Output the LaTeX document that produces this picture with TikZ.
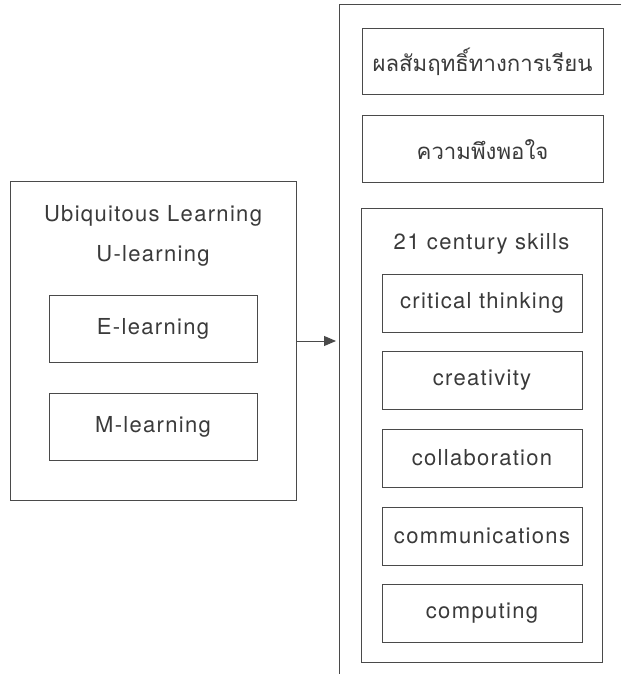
\documentclass[tikz,border=0pt]{standalone}
\usepackage{fontspec}
\setmainfont{TeX Gyre Heros}[LetterSpace=6]
\newfontfamily\thaifont[Script=Thai]{Loma}
\usetikzlibrary{arrows.meta}
\definecolor{ink}{HTML}{3A3A3A}
\definecolor{rule}{HTML}{4A4A4A}
\begin{document}
\begin{tikzpicture}[x=1pt,y=-1pt,
  every node/.style={text=ink,font=\fontsize{22}{26}\selectfont},
  frame/.style={draw=rule,line width=0.9pt,rectangle,inner sep=0pt},
  outerbox/.style={frame,minimum width=286pt,minimum height=319pt},
  midbox/.style={frame,minimum width=208pt,minimum height=67pt},
  resultbox/.style={frame,minimum width=241pt,minimum height=66pt},
  skillbox/.style={frame,minimum width=200pt,minimum height=58pt},
  label/.style={inner sep=0pt},
  thai/.style={font=\thaifont\fontsize{22.2}{26}\selectfont}]
\useasboundingbox (0,0) rectangle (621,674);
\fill[white] (0,0) rectangle (621,674);

% left group: learning modes
\node[outerbox] (ul) at (153,340.5) {};
\node[label] (ultitle) at (153,216) {Ubiquitous Learning};
\node[label] (ulsub) at (153,256) {U-learning};
\node[midbox] (el) at (153,328.5) {E-learning};
\node[midbox] (ml) at (153,426.5) {M-learning};

% right group: outcomes, open frame on top and left
\coordinate (ftop) at (339,4);
\draw[rule,line width=0.9pt] (621,4) -- (ftop) -- (339,674);
\coordinate (fin) at (339,341);

\node[resultbox] (ach) at (482.5,61) {};
\node[label,thai] (achtxt) at (482.5,62) {ผลสัมฤทธิ์ทางการเรียน};
\node[resultbox,minimum height=67pt] (sat) at (482.5,148.5) {};
\node[label,thai] (sattxt) at (482.5,149.5) {ความพึงพอใจ};

\node[frame,minimum width=241pt,minimum height=454pt] (skills) at (481.5,435) {};
\node[label] (skilltitle) at (481.5,244) {21 century skills};
\node[skillbox] (s1) at (482,303) {critical thinking};
\node[skillbox] (s2) at (482,380.5) {creativity};
\node[skillbox] (s3) at (482,458) {collaboration};
\node[skillbox] (s4) at (482,536) {communications};
\node[skillbox] (s5) at (482,613) {computing};

% flow from learning modes to outcomes
\draw[rule,line width=0.9pt,-{Triangle[length=12pt,width=10pt]},shorten >=3pt] (ul.east |- fin) -- (fin);
\end{tikzpicture}
\end{document}
